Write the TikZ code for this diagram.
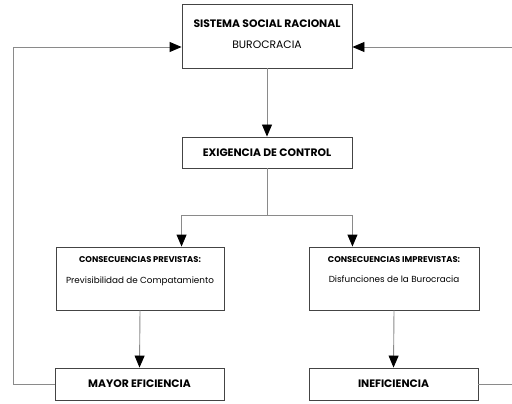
\documentclass[tikz,border=0pt]{standalone}
\usepackage{fontspec}
\setmainfont{Poppins}
\usetikzlibrary{arrows.meta}
\definecolor{boxline}{HTML}{444444}
\definecolor{wire}{HTML}{8A8A8A}
\tikzset{
  box/.style={draw=boxline, line width=0.9pt, fill=white, inner sep=0pt},
  wirepath/.style={draw=wire, line width=0.9pt},
  tip/.style={-{Triangle[length=12pt,width=10pt,color=black]}},
  headfont/.style={font=\fontsize{10.8}{12}\selectfont\bfseries},
  smallhead/.style={font=\fontsize{8.4}{10}\selectfont\bfseries},
  bodyfont/.style={font=\fontsize{10.8}{12}\selectfont},
  smallbody/.style={font=\fontsize{8.8}{10}\selectfont},
}
\begin{document}
\begin{tikzpicture}[x=1pt,y=-1pt]
\useasboundingbox (0,0) rectangle (512,404);
% boxes
\node[box, minimum width=170pt, minimum height=64pt] (sys) at (267,36) {};
\node[headfont] at (267,24) {SISTEMA SOCIAL RACIONAL};
\node[bodyfont] at (267,45) {BUROCRACIA};

\node[box, minimum width=170pt, minimum height=31pt] (ctrl) at (267,152.5) {};
\node[headfont] at (267,152.5) {EXIGENCIA DE CONTROL};

\node[box, minimum width=168pt, minimum height=63pt] (prev) at (140,278.5) {};
\node[smallhead] at (140,260) {CONSECUENCIAS PREVISTAS:};
\node[smallbody] at (140,281) {Previsibilidad de Compatamiento};

\node[box, minimum width=170pt, minimum height=63pt] (imprev) at (394,278.5) {};
\node[smallhead] at (394,260) {CONSECUENCIAS IMPREVISTAS:};
\node[smallbody] at (394,279) {Disfunciones de la Burocracia};

\node[box, minimum width=169pt, minimum height=32pt] (efic) at (139.5,384) {};
\node[headfont] at (139.5,384) {MAYOR EFICIENCIA};

\node[box, minimum width=169pt, minimum height=32pt] (inef) at (393.5,384) {};
\node[headfont] at (393.5,384) {INEFICIENCIA};

% branch point below the control box
\coordinate (split) at (267,215);

% connectors
\draw[wirepath, tip] (sys.south) -- (ctrl.north);
\draw[wirepath] (ctrl.south) -- (split);
\draw[wirepath, tip] (split) -| (prev.north east -| ctrl.west);
\draw[wirepath, tip] (split) -| (imprev.north west -| ctrl.east);
\draw[wirepath, tip] (prev.south) -- (efic.north);
\draw[wirepath, tip] (imprev.south) -- (inef.north);

% feedback loops back to the top box
\draw[wirepath, tip] (efic.west) -- (13,384) |- (sys.west |- 0,47);
\draw[wirepath, tip] (inef.east) -- (514,384) |- (sys.east |- 0,47);
\end{tikzpicture}
\end{document}
